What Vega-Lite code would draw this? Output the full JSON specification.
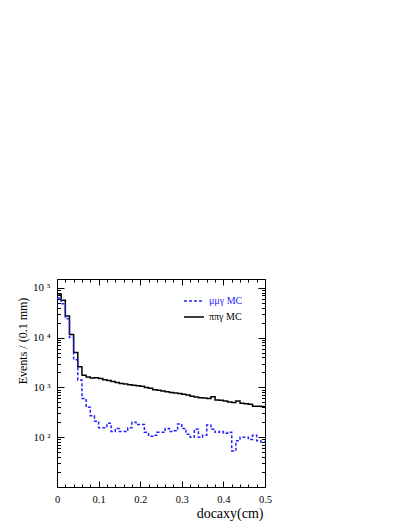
{
  "$schema": "https://vega.github.io/schema/vega-lite/v6.json",
  "width": 208,
  "height": 208,
  "autosize": {"type": "none"},
  "padding": {"left": 57, "top": 279, "right": 144, "bottom": 42},
  "background": "white",
  "config": {
    "view": {"stroke": "black", "strokeWidth": 1},
    "axis": {"grid": false, "domainColor": "black", "tickColor": "black", "labelColor": "black", "titleColor": "black", "labelFont": "Liberation Serif", "titleFont": "Liberation Serif", "titleFontWeight": "normal", "labelFlush": false, "labelOverlap": false, "tickWidth": 1, "domainWidth": 1}
  },
  "data": {
    "values": [
      {"s": "ππγ MC", "x": 0.00, "n": 75000},
      {"s": "ππγ MC", "x": 0.01, "n": 56000},
      {"s": "ππγ MC", "x": 0.02, "n": 27000},
      {"s": "ππγ MC", "x": 0.03, "n": 11500},
      {"s": "ππγ MC", "x": 0.04, "n": 5000},
      {"s": "ππγ MC", "x": 0.05, "n": 2600},
      {"s": "ππγ MC", "x": 0.06, "n": 1750},
      {"s": "ππγ MC", "x": 0.07, "n": 1620},
      {"s": "ππγ MC", "x": 0.08, "n": 1540},
      {"s": "ππγ MC", "x": 0.09, "n": 1560},
      {"s": "ππγ MC", "x": 0.10, "n": 1500},
      {"s": "ππγ MC", "x": 0.11, "n": 1430},
      {"s": "ππγ MC", "x": 0.12, "n": 1380},
      {"s": "ππγ MC", "x": 0.13, "n": 1320},
      {"s": "ππγ MC", "x": 0.14, "n": 1250},
      {"s": "ππγ MC", "x": 0.15, "n": 1200},
      {"s": "ππγ MC", "x": 0.16, "n": 1170},
      {"s": "ππγ MC", "x": 0.17, "n": 1130},
      {"s": "ππγ MC", "x": 0.18, "n": 1100},
      {"s": "ππγ MC", "x": 0.19, "n": 1080},
      {"s": "ππγ MC", "x": 0.20, "n": 1060},
      {"s": "ππγ MC", "x": 0.21, "n": 1000},
      {"s": "ππγ MC", "x": 0.22, "n": 960},
      {"s": "ππγ MC", "x": 0.23, "n": 900},
      {"s": "ππγ MC", "x": 0.24, "n": 880},
      {"s": "ππγ MC", "x": 0.25, "n": 850},
      {"s": "ππγ MC", "x": 0.26, "n": 820},
      {"s": "ππγ MC", "x": 0.27, "n": 790},
      {"s": "ππγ MC", "x": 0.28, "n": 770},
      {"s": "ππγ MC", "x": 0.29, "n": 750},
      {"s": "ππγ MC", "x": 0.30, "n": 730},
      {"s": "ππγ MC", "x": 0.31, "n": 700},
      {"s": "ππγ MC", "x": 0.32, "n": 660},
      {"s": "ππγ MC", "x": 0.33, "n": 640},
      {"s": "ππγ MC", "x": 0.34, "n": 620},
      {"s": "ππγ MC", "x": 0.35, "n": 610},
      {"s": "ππγ MC", "x": 0.36, "n": 600},
      {"s": "ππγ MC", "x": 0.37, "n": 650},
      {"s": "ππγ MC", "x": 0.38, "n": 560},
      {"s": "ππγ MC", "x": 0.39, "n": 550},
      {"s": "ππγ MC", "x": 0.40, "n": 530},
      {"s": "ππγ MC", "x": 0.41, "n": 510},
      {"s": "ππγ MC", "x": 0.42, "n": 500},
      {"s": "ππγ MC", "x": 0.43, "n": 530},
      {"s": "ππγ MC", "x": 0.44, "n": 480},
      {"s": "ππγ MC", "x": 0.45, "n": 470},
      {"s": "ππγ MC", "x": 0.46, "n": 460},
      {"s": "ππγ MC", "x": 0.47, "n": 420},
      {"s": "ππγ MC", "x": 0.48, "n": 420},
      {"s": "ππγ MC", "x": 0.49, "n": 415},
      {"s": "ππγ MC", "x": 0.50, "n": 415},
      {"s": "μμγ MC", "x": 0.00, "n": 62000},
      {"s": "μμγ MC", "x": 0.01, "n": 48000},
      {"s": "μμγ MC", "x": 0.02, "n": 24000},
      {"s": "μμγ MC", "x": 0.03, "n": 10000},
      {"s": "μμγ MC", "x": 0.04, "n": 3600},
      {"s": "μμγ MC", "x": 0.05, "n": 1400},
      {"s": "μμγ MC", "x": 0.06, "n": 600},
      {"s": "μμγ MC", "x": 0.07, "n": 400},
      {"s": "μμγ MC", "x": 0.08, "n": 270},
      {"s": "μμγ MC", "x": 0.09, "n": 210},
      {"s": "μμγ MC", "x": 0.10, "n": 155},
      {"s": "μμγ MC", "x": 0.11, "n": 155},
      {"s": "μμγ MC", "x": 0.12, "n": 190},
      {"s": "μμγ MC", "x": 0.13, "n": 130},
      {"s": "μμγ MC", "x": 0.14, "n": 150},
      {"s": "μμγ MC", "x": 0.15, "n": 130},
      {"s": "μμγ MC", "x": 0.16, "n": 130},
      {"s": "μμγ MC", "x": 0.17, "n": 155},
      {"s": "μμγ MC", "x": 0.18, "n": 200},
      {"s": "μμγ MC", "x": 0.19, "n": 180},
      {"s": "μμγ MC", "x": 0.20, "n": 180},
      {"s": "μμγ MC", "x": 0.21, "n": 125},
      {"s": "μμγ MC", "x": 0.22, "n": 105},
      {"s": "μμγ MC", "x": 0.23, "n": 110},
      {"s": "μμγ MC", "x": 0.24, "n": 125},
      {"s": "μμγ MC", "x": 0.25, "n": 125},
      {"s": "μμγ MC", "x": 0.26, "n": 150},
      {"s": "μμγ MC", "x": 0.27, "n": 130},
      {"s": "μμγ MC", "x": 0.28, "n": 135},
      {"s": "μμγ MC", "x": 0.29, "n": 185},
      {"s": "μμγ MC", "x": 0.30, "n": 150},
      {"s": "μμγ MC", "x": 0.31, "n": 115},
      {"s": "μμγ MC", "x": 0.32, "n": 100},
      {"s": "μμγ MC", "x": 0.33, "n": 145},
      {"s": "μμγ MC", "x": 0.34, "n": 100},
      {"s": "μμγ MC", "x": 0.35, "n": 110},
      {"s": "μμγ MC", "x": 0.36, "n": 175},
      {"s": "μμγ MC", "x": 0.37, "n": 145},
      {"s": "μμγ MC", "x": 0.38, "n": 125},
      {"s": "μμγ MC", "x": 0.39, "n": 130},
      {"s": "μμγ MC", "x": 0.40, "n": 120},
      {"s": "μμγ MC", "x": 0.41, "n": 125},
      {"s": "μμγ MC", "x": 0.42, "n": 53},
      {"s": "μμγ MC", "x": 0.43, "n": 85},
      {"s": "μμγ MC", "x": 0.44, "n": 100},
      {"s": "μμγ MC", "x": 0.45, "n": 100},
      {"s": "μμγ MC", "x": 0.46, "n": 90},
      {"s": "μμγ MC", "x": 0.47, "n": 110},
      {"s": "μμγ MC", "x": 0.48, "n": 85},
      {"s": "μμγ MC", "x": 0.49, "n": 80},
      {"s": "μμγ MC", "x": 0.50, "n": 80}
    ]
  },
  "layer": [
    {
      "transform": [{"filter": "datum.s == 'ππγ MC'"}],
      "mark": {"type": "line", "interpolate": "step-after", "strokeWidth": 1.5},
      "encoding": {
        "x": {
          "field": "x", "type": "quantitative",
          "scale": {"domain": [0, 0.5], "nice": false, "zero": false},
          "axis": {
            "orient": "bottom",
            "values": [0, 0.02, 0.04, 0.06, 0.08, 0.1, 0.12, 0.14, 0.16, 0.18, 0.2, 0.22, 0.24, 0.26, 0.28, 0.3, 0.32, 0.34, 0.36, 0.38, 0.4, 0.42, 0.44, 0.46, 0.48, 0.5],
            "labelExpr": "abs(datum.value*10 - round(datum.value*10)) < 1e-6 ? (datum.value == 0 ? '0' : format(datum.value, '.1f')) : ''",
            "tickSize": {"condition": {"test": "abs(datum.value*10 - round(datum.value*10)) < 1e-6", "value": -6}, "value": -3},
            "labelPadding": 13,
            "labelFontSize": 10.5,
            "title": "docaxy(cm)",
            "titleFontSize": 14,
            "titleX": 206,
            "titleY": 30,
            "titleAlign": "right",
            "titleBaseline": "alphabetic"
          }
        },
        "y": {
          "field": "n", "type": "quantitative",
          "scale": {"type": "log", "domain": [10, 150000], "nice": false},
          "axis": {
            "orient": "left",
            "values": [20, 30, 40, 50, 60, 70, 80, 90, 100, 200, 300, 400, 500, 600, 700, 800, 900, 1000, 2000, 3000, 4000, 5000, 6000, 7000, 8000, 9000, 10000, 20000, 30000, 40000, 50000, 60000, 70000, 80000, 90000, 100000],
            "labelExpr": "datum.value == 100 ? '10 ²' : datum.value == 1000 ? '10 ³' : datum.value == 10000 ? '10 ⁴' : datum.value == 100000 ? '10 ⁵' : ''",
            "tickSize": {"condition": {"test": "indexof([100, 1000, 10000, 100000], datum.value) >= 0", "value": -7}, "value": -3.5},
            "labelPadding": 14,
            "labelFontSize": 11,
            "title": "Events / (0.1 mm)",
            "titleFontSize": 12,
            "titleX": -31,
            "titleY": 61.5,
            "titleAlign": "center",
            "titleBaseline": "alphabetic",
            "titleAngle": 270
          }
        },
        "color": {"field": "s", "type": "nominal", "scale": {"domain": ["μμγ MC", "ππγ MC"], "range": ["#2222ff", "black"]},
          "legend": {"orient": "none", "legendX": 126, "legendY": 11, "title": null, "symbolType": "stroke", "symbolSize": 400, "symbolStrokeWidth": 1.5, "labelFont": "Liberation Serif", "labelFontSize": 10, "labelOffset": 4, "rowPadding": -1, "padding": 0,
            "encode": {"labels": {"update": {"fill": {"signal": "datum.value == 'μμγ MC' ? '#2222ff' : 'black'"}}}}}},
        "strokeDash": {"field": "s", "type": "nominal", "scale": {"domain": ["μμγ MC", "ππγ MC"], "range": [[3, 2], [1, 0]]}}
      }
    },
    {
      "transform": [{"filter": "datum.s == 'μμγ MC'"}],
      "mark": {"type": "line", "interpolate": "step-after", "strokeWidth": 1.5},
      "encoding": {
        "x": {
          "field": "x", "type": "quantitative",
          "axis": {
            "orient": "top",
            "values": [0, 0.02, 0.04, 0.06, 0.08, 0.1, 0.12, 0.14, 0.16, 0.18, 0.2, 0.22, 0.24, 0.26, 0.28, 0.3, 0.32, 0.34, 0.36, 0.38, 0.4, 0.42, 0.44, 0.46, 0.48, 0.5],
            "labels": false,
            "tickSize": {"condition": {"test": "abs(datum.value*10 - round(datum.value*10)) < 1e-6", "value": -6}, "value": -3},
            "title": null
          }
        },
        "y": {
          "field": "n", "type": "quantitative",
          "axis": {
            "orient": "right",
            "values": [20, 30, 40, 50, 60, 70, 80, 90, 100, 200, 300, 400, 500, 600, 700, 800, 900, 1000, 2000, 3000, 4000, 5000, 6000, 7000, 8000, 9000, 10000, 20000, 30000, 40000, 50000, 60000, 70000, 80000, 90000, 100000],
            "labels": false,
            "tickSize": {"condition": {"test": "indexof([100, 1000, 10000, 100000], datum.value) >= 0", "value": -7}, "value": -3.5},
            "title": null
          }
        },
        "color": {"field": "s", "type": "nominal"},
        "strokeDash": {"field": "s", "type": "nominal"}
      }
    }
  ],
  "resolve": {"axis": {"x": "independent", "y": "independent"}}
}
